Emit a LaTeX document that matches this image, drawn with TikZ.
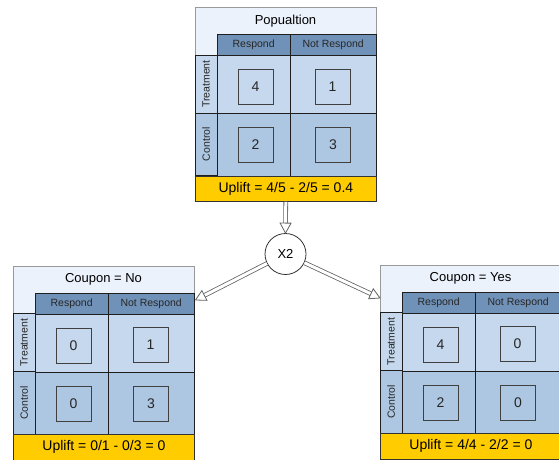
\documentclass[tikz,border=0pt]{standalone}
\usepackage{fontspec}
\setmainfont{Liberation Sans}
\usetikzlibrary{calc}
\definecolor{titleblue}{RGB}{236,242,252}
\definecolor{hdrblue}{RGB}{113,146,184}
\definecolor{treatblue}{RGB}{198,216,237}
\definecolor{ctrlblue}{RGB}{173,199,226}
\definecolor{upgold}{RGB}{255,204,0}
\definecolor{gridline}{RGB}{30,30,30}
\definecolor{arrowgray}{RGB}{100,100,100}
\tikzset{
  cellline/.style={draw=gridline, line width=0.8pt},
  titlebg/.style={fill=titleblue, draw=gray!80, line width=0.8pt, minimum width=181pt, minimum height=48pt, anchor=north west, inner sep=0pt},
  titletxt/.style={font=\fontsize{13}{15}\selectfont, inner sep=0pt},
  hdr/.style={fill=hdrblue, cellline, minimum height=21pt, anchor=north west, inner sep=0pt, font=\fontsize{10.5}{12}\selectfont, text=black!85},
  cell/.style={cellline, anchor=north west, inner sep=0pt},
  lbl/.style={cellline, rotate=90, minimum height=22pt, inner sep=0pt, font=\fontsize{10.5}{12}\selectfont, text=black!85},
  numbox/.style={draw=black!75, line width=0.8pt, minimum size=35pt, inner sep=0pt, font=\fontsize{14}{16}\selectfont, text=black!85},
  upl/.style={fill=upgold, draw=black!80, line width=0.8pt, minimum width=181pt, minimum height=25.5pt, anchor=north west, inner sep=0pt, font=\fontsize{14}{16}\selectfont},
  decnode/.style={circle, draw=black!80, line width=0.8pt, fill=white, minimum size=41pt, inner sep=0pt, font=\fontsize{13}{15}\selectfont},
  dblline/.style={draw=arrowgray, line width=0.8pt, double=white, double distance=3pt},
  tiphead/.style={draw=arrowgray, line width=0.8pt, fill=white, line join=miter},
}
\newcommand\uptable[9]{%
\begin{scope}[shift={(#2,#3)}]
  \node[titlebg] (#1-bg) at (0,0) {};
  \node[titletxt] (#1-title) at (90.5,14) {#4};
  \node[hdr, minimum width=72.5pt] (#1-hr) at (22,27) {Respond};
  \node[hdr, minimum width=86.5pt] (#1-hn) at (94.5,27) {Not Respond};
  \node[cell, fill=treatblue, minimum width=72.5pt, minimum height=58pt] (#1-tr) at (22,48) {};
  \node[cell, fill=treatblue, minimum width=86.5pt, minimum height=58pt] (#1-tn) at (94.5,48) {};
  \node[cell, fill=ctrlblue, minimum width=72.5pt, minimum height=62.5pt] (#1-cr) at (22,106) {};
  \node[cell, fill=ctrlblue, minimum width=86.5pt, minimum height=62.5pt] (#1-cn) at (94.5,106) {};
  \node[lbl, fill=treatblue, minimum width=58pt] (#1-tl) at (11,77) {Treatment};
  \node[lbl, fill=ctrlblue, minimum width=62.5pt] (#1-cl) at (11,137.25) {Control};
  \node[numbox] (#1-a) at (60.5,80) {#5};
  \node[numbox] (#1-b) at (137.5,79.5) {#6};
  \node[numbox] (#1-c) at (60.5,138) {#7};
  \node[numbox] (#1-d) at (138,138) {#8};
  \node[upl] (#1-u) at (0,168.5) {#9};
\end{scope}}
\newcommand\dblarr[2]{%
  \coordinate (#2-b) at ($(#2)!10pt!(#1)$);
  \draw[dblline] (#1) -- (#2-b);
  \filldraw[tiphead] (#2) -- ($(#2-b)!5.5pt!90:(#2)$) -- ($(#2-b)!5.5pt!-90:(#2)$) -- cycle;
}
\begin{document}
\begin{tikzpicture}[x=1pt, y=-1pt]
  \useasboundingbox (0,0) rectangle (559,460);
  \uptable{T}{195}{7}{Popualtion}{4}{1}{2}{3}{Uplift = 4/5 - 2/5 = 0.4}
  \uptable{L}{13}{265.5}{Coupon = No}{0}{1}{0}{3}{Uplift = 0/1 - 0/3 = 0}
  \uptable{R}{380}{264.5}{Coupon = Yes}{4}{0}{2}{0}{Uplift = 4/4 - 2/2 = 0}
  \node[decnode] (x2) at (285.5,254) {X2};
  \coordinate (tT) at (x2.north);
  \coordinate (tL) at (195.5,300);
  \coordinate (tR) at (380,298);
  \dblarr{T-u}{tT}
  \dblarr{x2}{tL}
  \dblarr{x2}{tR}
\end{tikzpicture}
\end{document}
